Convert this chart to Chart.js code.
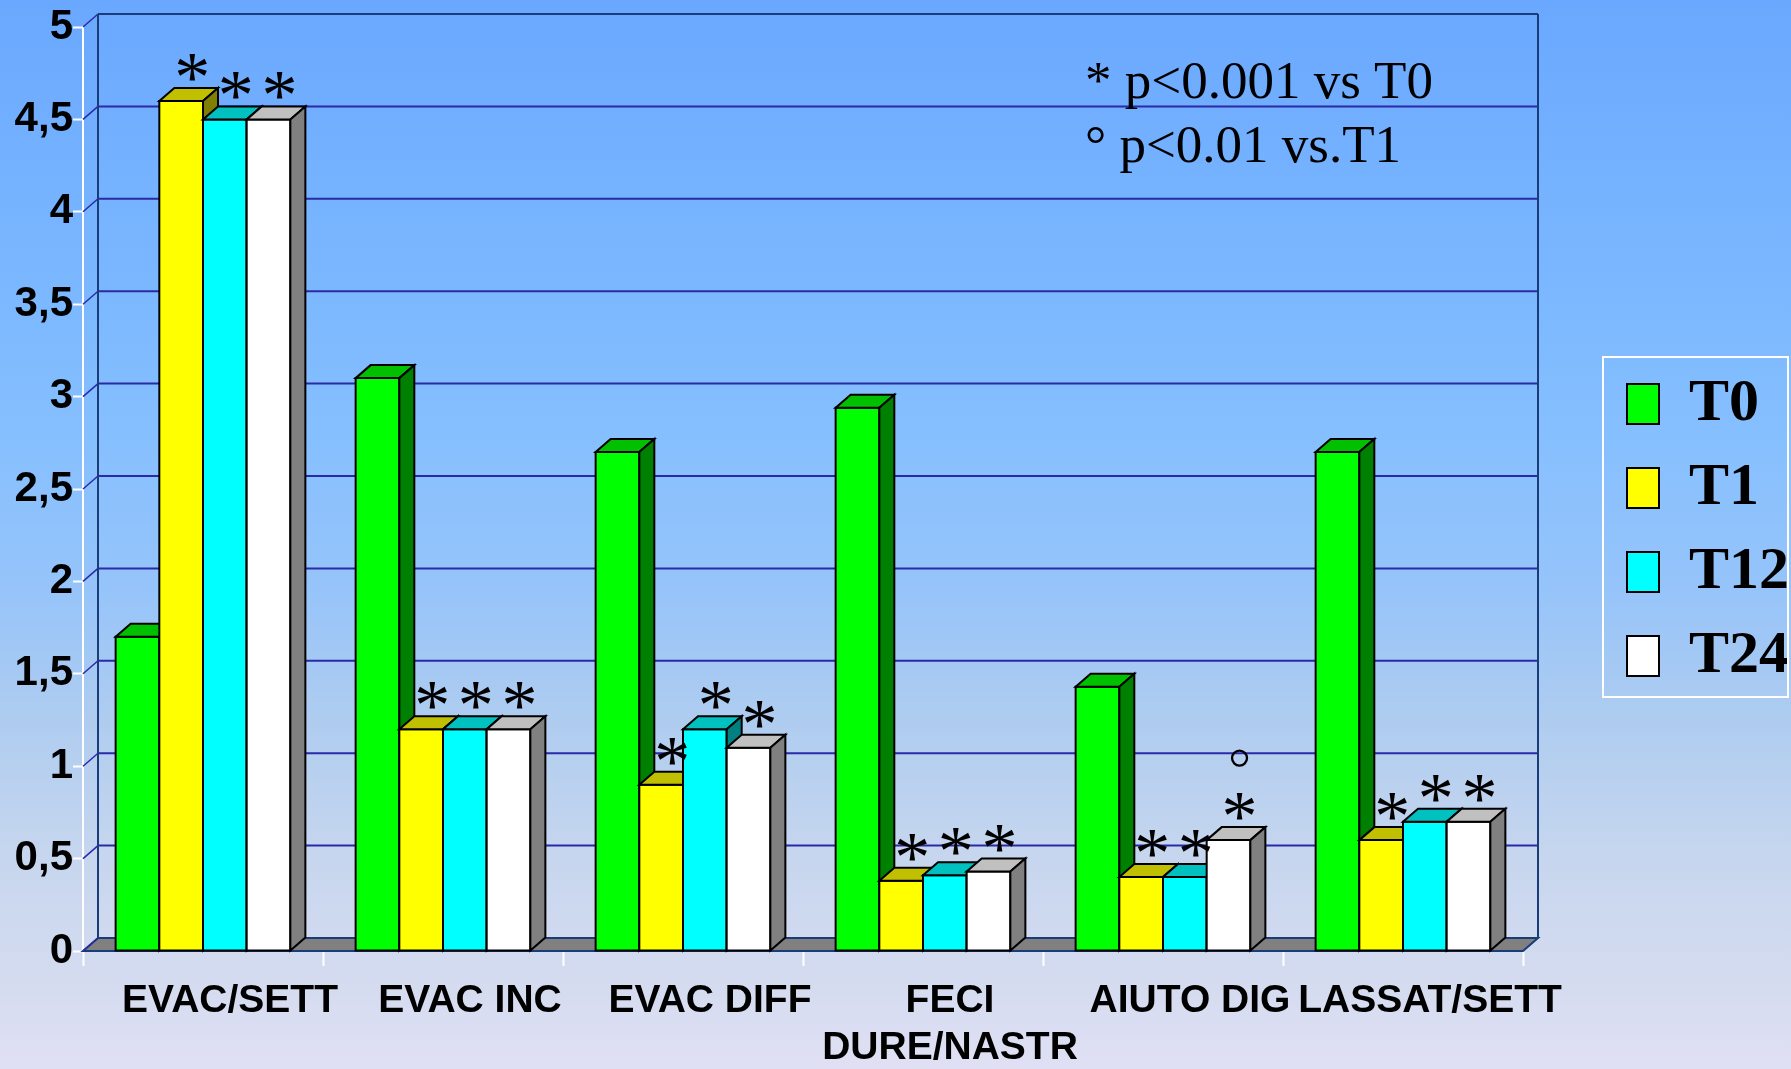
<!DOCTYPE html>
<html>
<head>
<meta charset="utf-8">
<script src="https://cdn.jsdelivr.net/npm/chart.js@4.4.1/dist/chart.umd.min.js"></script>
<style>
  html, body { margin: 0; padding: 0; }
  canvas { display: block; }
</style>
</head>
<body>
<canvas id="chart" width="1791" height="1069"></canvas>
<script>
const categories = ['EVAC/SETT', 'EVAC INC', 'EVAC DIFF', ['FECI', 'DURE/NASTR'], 'AIUTO DIG', 'LASSAT/SETT'];
const seriesNames = ['T0', 'T1', 'T12', 'T24'];
const t0Values = [1.7, 3.1, 2.7, 2.94, 1.43, 2.7];
const t1Values = [4.6, 1.2, 0.9, 0.38, 0.4, 0.6];
const t12Values = [4.5, 1.2, 1.2, 0.41, 0.4, 0.7];
const t24Values = [4.5, 1.2, 1.1, 0.43, 0.6, 0.7];
const yTickLabels = ['0', '0,5', '1', '1,5', '2', '2,5', '3', '3,5', '4', '4,5', '5'];

// marks over the bars: * = p<0.001 vs T0, ° = p<0.01 vs T1
const t0Stars = ['', '', '', '', '', ''];
const t1Stars = ['*', '*', '*', '*', '*', '*'];
const t12Stars = ['*', '*', '*', '*', '*', '*'];
const t24Stars = ['*', '*', '*', '*', '*', '*'];
const t24VsT1 = [false, false, false, false, true, false];
const noteLines = ['* p<0.001 vs T0', '° p<0.01 vs.T1'];

const frontColors = ['#00ff00', '#ffff00', '#00ffff', '#ffffff'];
const topColors = ['#00c000', '#c0c000', '#00c0c0', '#c0c0c0'];
const sideColors = ['#008000', '#808000', '#008080', '#808080'];

const DX = 15, DY = 13;   // depth of the 3d look
const SERIF = '"Liberation Serif", "Times New Roman", serif';
const SANS = '"Liberation Sans", Arial, sans-serif';

function poly(ctx, pts, fill) {
  ctx.beginPath();
  ctx.moveTo(pts[0][0], pts[0][1]);
  for (let i = 1; i < pts.length; i++) ctx.lineTo(pts[i][0], pts[i][1]);
  ctx.closePath();
  ctx.fillStyle = fill;
  ctx.fill();
  ctx.stroke();
}

function drawBar(ctx, bar, d) {
  const x0 = bar.x - bar.width / 2, x1 = bar.x + bar.width / 2;
  const top = bar.y, base = bar.base;
  ctx.strokeStyle = '#000';
  ctx.lineWidth = 2;
  poly(ctx, [[x0, top], [x1, top], [x1, base], [x0, base]], frontColors[d]);
  poly(ctx, [[x0, top], [x1, top], [x1 + DX, top - DY], [x0 + DX, top - DY]], topColors[d]);
  poly(ctx, [[x1, top], [x1 + DX, top - DY], [x1 + DX, base - DY], [x1, base]], sideColors[d]);
}

const backgroundPlugin = {
  id: 'background',
  beforeDraw(chart) {
    const { ctx, width, height } = chart;
    const g = ctx.createLinearGradient(0, 0, 0, height);
    g.addColorStop(0, 'rgb(106,168,255)');
    g.addColorStop(0.28, 'rgb(124,184,255)');
    g.addColorStop(0.4, 'rgb(133,191,255)');
    g.addColorStop(0.55, 'rgb(150,196,250)');
    g.addColorStop(0.67, 'rgb(174,204,240)');
    g.addColorStop(0.8, 'rgb(198,214,238)');
    g.addColorStop(0.93, 'rgb(214,220,240)');
    g.addColorStop(1, 'rgb(224,224,244)');
    ctx.save();
    ctx.fillStyle = g;
    ctx.fillRect(0, 0, width, height);
    ctx.restore();
  }
};

const box3dPlugin = {
  id: 'box3d',
  afterLayout(chart) {
    // let the two-line category label run below the axis box
    chart.scales.x.bottom = chart.height;
  },
  beforeDatasetsDraw(chart) {
    const { ctx, chartArea: ca } = chart;
    const yScale = chart.scales.y;
    ctx.save();

    // floor
    ctx.strokeStyle = '#1a3c78';
    ctx.lineWidth = 2;
    poly(ctx, [[ca.left, ca.bottom], [ca.right, ca.bottom], [ca.right + DX, ca.bottom - DY], [ca.left + DX, ca.bottom - DY]], '#808080');

    // back wall grid + side wall diagonals
    yScale.ticks.forEach(t => {
      const py = yScale.getPixelForValue(t.value);
      ctx.beginPath();
      ctx.strokeStyle = t.value === 5 || t.value === 0 ? '#1a3c78' : '#2a2aa8';
      ctx.lineWidth = 2;
      ctx.moveTo(ca.left + DX, py - DY);
      ctx.lineTo(ca.right + DX, py - DY);
      ctx.stroke();
      ctx.beginPath();
      ctx.strokeStyle = '#2a2aa8';
      ctx.lineWidth = 1.5;
      ctx.moveTo(ca.left, py);
      ctx.lineTo(ca.left + DX, py - DY);
      ctx.stroke();
    });
    ctx.strokeStyle = '#1a3c78';
    ctx.lineWidth = 2;
    ctx.beginPath();
    ctx.moveTo(ca.left + DX, ca.top - DY);
    ctx.lineTo(ca.left + DX, ca.bottom - DY);
    ctx.moveTo(ca.right + DX, ca.top - DY);
    ctx.lineTo(ca.right + DX, ca.bottom - DY);
    ctx.stroke();

    // bars, one group at a time, left to right so the faces overlap right
    for (let i = 0; i < categories.length; i++) {
      chart.data.datasets.forEach((ds, d) => {
        drawBar(ctx, chart.getDatasetMeta(d).data[i], d);
      });
    }

    // significance marks
    const stars = [t0Stars, t1Stars, t12Stars, t24Stars];
    ctx.fillStyle = '#000';
    ctx.textAlign = 'center';
    ctx.textBaseline = 'alphabetic';
    ctx.font = '72px ' + SERIF;
    chart.data.datasets.forEach((ds, d) => {
      chart.getDatasetMeta(d).data.forEach((bar, i) => {
        if (stars[d][i]) ctx.fillText(stars[d][i], bar.x + 11, bar.y);
        if (d === 3 && t24VsT1[i]) {
          ctx.beginPath();
          ctx.lineWidth = 2.3;
          ctx.strokeStyle = '#000';
          ctx.arc(bar.x + 11, bar.y - 82, 7.5, 0, Math.PI * 2);
          ctx.stroke();
        }
      });
    });
    ctx.restore();
    return false;
  },
  afterDraw(chart) {
    const { ctx, chartArea: ca } = chart;
    ctx.save();
    ctx.fillStyle = '#000';
    ctx.font = '53px ' + SERIF;
    ctx.textAlign = 'left';
    ctx.textBaseline = 'alphabetic';
    ctx.fillText(noteLines[0], ca.left + 1002, 98);
    ctx.fillText(noteLines[1], ca.left + 1002, 162);

    // frame round the legend
    const lg = chart.legend;
    const hb = lg.legendHitBoxes;
    const top = hb[0].top - 17;
    const bottom = hb[hb.length - 1].top + hb[hb.length - 1].height + 11;
    ctx.strokeStyle = '#ffffff';
    ctx.lineWidth = 2;
    ctx.strokeRect(lg.left, top, 185, bottom - top);
    ctx.restore();
  }
};

const valueSets = [t0Values, t1Values, t12Values, t24Values];

new Chart(document.getElementById('chart'), {
  type: 'bar',
  data: {
    labels: categories,
    datasets: seriesNames.map((name, d) => ({
      label: name,
      data: valueSets[d],
      backgroundColor: frontColors[d],
      borderColor: '#000',
      borderWidth: 2,
      categoryPercentage: 0.728,
      barPercentage: 1
    }))
  },
  options: {
    responsive: false,
    animation: false,
    devicePixelRatio: 1,
    layout: { padding: { top: 27, right: 3, bottom: 36, left: 0 } },
    plugins: {
      tooltip: { enabled: false },
      legend: {
        position: 'right',
        maxWidth: 185,
        labels: {
          boxWidth: 32,
          boxHeight: 40,
          padding: 24,
          color: '#000',
          font: { family: SERIF, size: 60, weight: 'bold' }
        }
      }
    },
    scales: {
      x: {
        grid: { drawOnChartArea: false, tickLength: 15, tickColor: '#ffffff', tickWidth: 2 },
        border: { color: '#ffffff', width: 2 },
        ticks: {
          color: '#000',
          padding: 12,
          labelOffset: 27,
          maxRotation: 0,
          autoSkip: false,
          font: { family: SANS, size: 39, weight: 'bold' }
        },
        afterFit: s => { s.height = 82; }
      },
      y: {
        min: 0,
        max: 5,
        grid: { drawOnChartArea: false, tickLength: 10, tickColor: '#ffffff', tickWidth: 2 },
        border: { color: '#ffffff', width: 2 },
        ticks: {
          stepSize: 0.5,
          padding: 0,
          color: '#000',
          font: { family: SANS, size: 42, weight: 'bold' },
          callback: (v, i) => yTickLabels[i]
        },
        afterFit: s => { s.width = 83; }
      },
      gap: {
        type: 'linear',
        position: 'right',
        grid: { display: false },
        border: { display: false },
        ticks: { display: false },
        afterFit: s => { s.width = 80; }
      }
    }
  },
  plugins: [backgroundPlugin, box3dPlugin]
});
</script>
</body>
</html>
